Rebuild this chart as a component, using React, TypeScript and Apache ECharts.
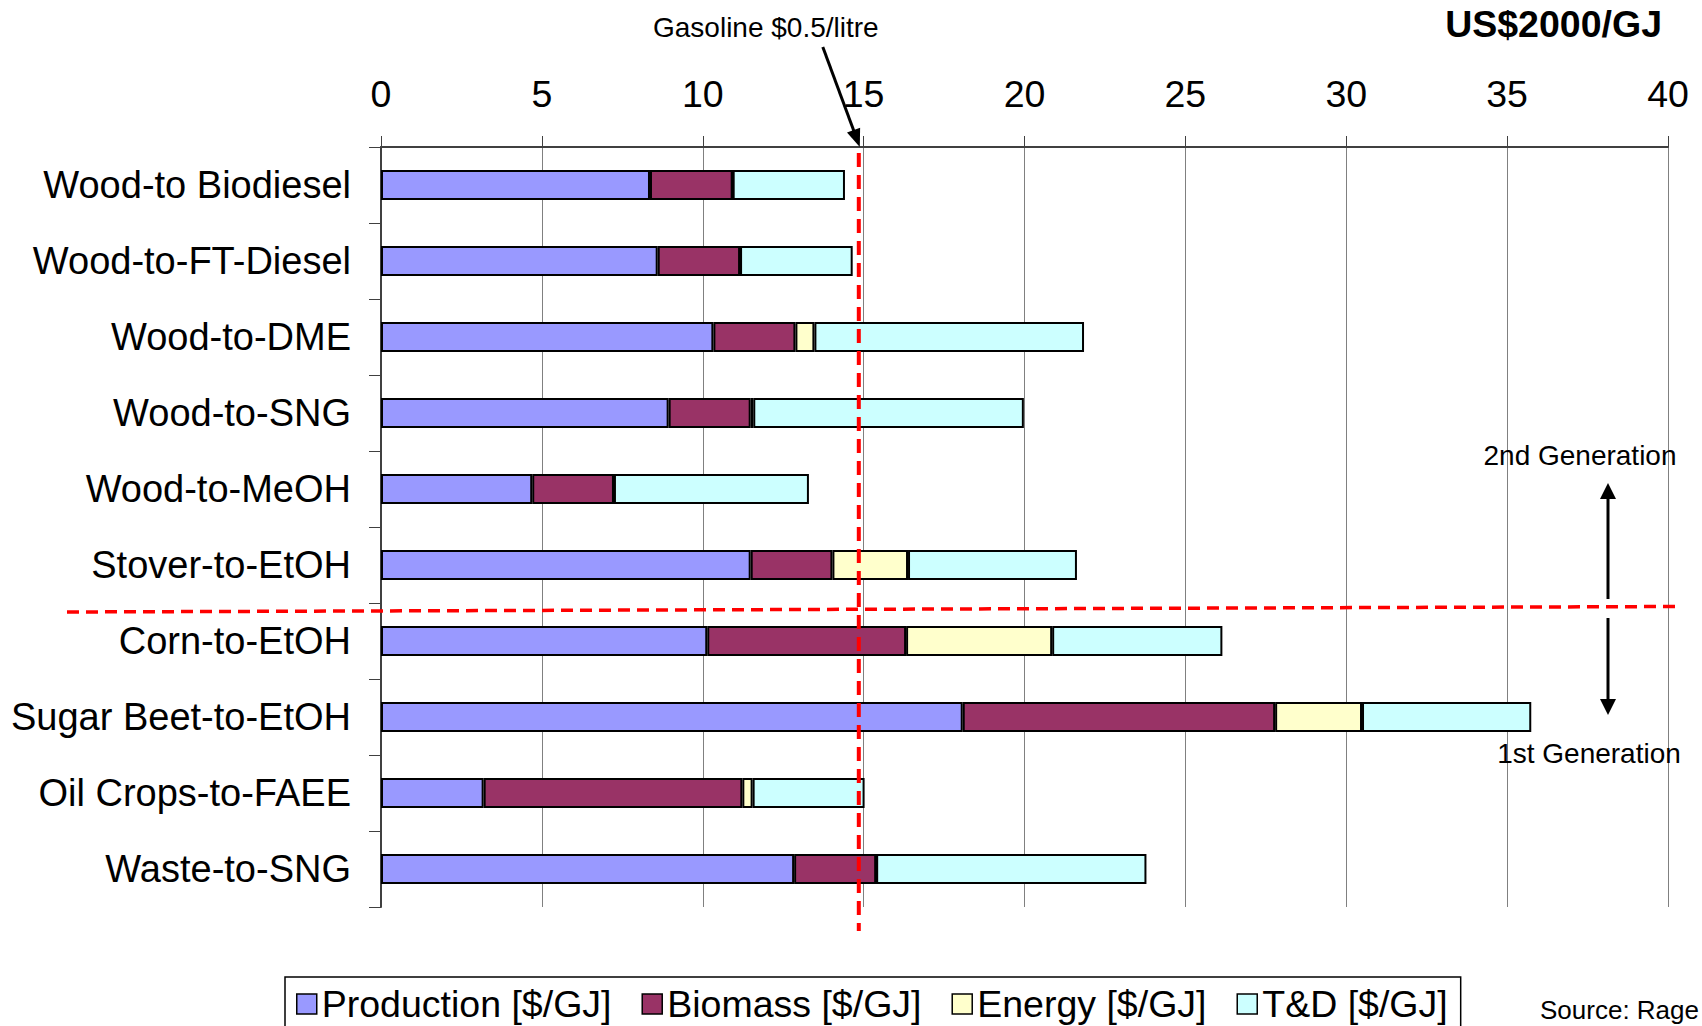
import { useEffect, useRef } from "react";
import * as echarts from "echarts";

// Cost breakdown per fuel pathway, US$2000 per GJ
const categories = [
  "Wood-to Biodiesel",
  "Wood-to-FT-Diesel",
  "Wood-to-DME",
  "Wood-to-SNG",
  "Wood-to-MeOH",
  "Stover-to-EtOH",
  "Corn-to-EtOH",
  "Sugar Beet-to-EtOH",
  "Oil Crops-to-FAEE",
  "Waste-to-SNG",
];
const production = [8.36, 8.6, 10.33, 8.94, 4.7, 11.49, 10.14, 18.08, 3.19, 12.84];
const biomass = [2.57, 2.56, 2.55, 2.55, 2.54, 2.54, 6.18, 9.71, 8.04, 2.55];
const energy = [0, 0, 0.59, 0.08, 0, 2.35, 4.54, 2.7, 0.32, 0];
const transport = [3.49, 3.5, 8.38, 8.41, 6.06, 5.25, 5.29, 5.26, 3.48, 8.4];

const seriesNames = ["Production [$/GJ]", "Biomass [$/GJ]", "Energy [$/GJ]", "T&D [$/GJ]"];
const seriesColors = ["#9999FF", "#993366", "#FFFFCC", "#CCFFFF"];

const axisMin = 0;
const axisMax = 40;
const axisStep = 5;
const gasolinePrice = 14.85;

const FONT = "'Liberation Sans', Arial, Helvetica, sans-serif";

// Triangle for an arrow tip pointing from (fx, fy) towards (tx, ty)
function arrowHead(tx: number, ty: number, fx: number, fy: number, len: number, halfW: number) {
  const dx = tx - fx;
  const dy = ty - fy;
  const d = Math.hypot(dx, dy) || 1;
  const ux = dx / d;
  const uy = dy / d;
  const bx = tx - ux * len;
  const by = ty - uy * len;
  return [
    [tx, ty],
    [bx - uy * halfW, by + ux * halfW],
    [bx + uy * halfW, by - ux * halfW],
  ];
}

export default function App() {
  const ref = useRef<HTMLDivElement>(null);

  useEffect(() => {
    document.body.style.margin = "0";
    if (!ref.current) return;
    const chart = echarts.init(ref.current, undefined, { renderer: "svg" });

    const gridTop = 147;
    const gridBottom = 119;
    const gridLeft = 381;
    const gridRight = 34;

    const values = [production, biomass, energy, transport];

    chart.setOption({
      animation: false,
      backgroundColor: "#ffffff",
      textStyle: { fontFamily: FONT },
      grid: { left: gridLeft, right: gridRight, top: gridTop, bottom: gridBottom, containLabel: false },
      xAxis: {
        type: "value",
        position: "top",
        min: axisMin,
        max: axisMax,
        interval: axisStep,
        axisLine: { show: true, lineStyle: { color: "#404040", width: 2 } },
        axisTick: { show: true, inside: false, length: 11, lineStyle: { color: "#404040", width: 1 } },
        axisLabel: { color: "#000", fontSize: 37.5, fontFamily: FONT, margin: 34 },
        splitLine: { show: true, lineStyle: { color: "#808080", width: 1 } },
      },
      yAxis: {
        type: "category",
        data: categories,
        inverse: true,
        axisLine: { show: true, lineStyle: { color: "#404040", width: 2 } },
        axisTick: { show: true, inside: false, length: 12, alignWithLabel: false, lineStyle: { color: "#404040", width: 1 } },
        axisLabel: { color: "#000", fontSize: 38, fontFamily: FONT, margin: 30 },
        splitLine: { show: false },
      },
      legend: {
        show: true,
        data: seriesNames,
        left: 285,
        top: 977,
        orient: "horizontal",
        icon: "rect",
        itemWidth: 20,
        itemHeight: 20,
        itemGap: 30,
        padding: [8, 13, 40, 11],
        borderColor: "#000",
        borderWidth: 1.5,
        selectedMode: false,
        textStyle: { color: "#000", fontSize: 37.5, fontFamily: FONT, padding: [0, 0, 0, 0] },
        itemStyle: { borderColor: "#000", borderWidth: 1.5 },
      },
      series: seriesNames.map((name, i) => ({
        name,
        type: "bar",
        stack: "total",
        barWidth: 30,
        data: values[i],
        itemStyle: { color: seriesColors[i], borderColor: "#000", borderWidth: 2 },
        emphasis: { disabled: true },
      })),
    });

    // Annotation overlay: gasoline reference line, generation divider and labels
    const gx = chart.convertToPixel({ xAxisIndex: 0 }, gasolinePrice) as number;
    const c5 = chart.convertToPixel({ yAxisIndex: 0 }, categories[5]) as number;
    const c6 = chart.convertToPixel({ yAxisIndex: 0 }, categories[6]) as number;
    const divider = (c5 + c6) / 2;

    const tipX = gx + 1;
    const tipY = gridTop;
    const fromX = tipX - 37;
    const fromY = 47;

    const genX = 1608;
    const upTip = 483;
    const downTip = 715;

    chart.setOption({
      graphic: [
        {
          type: "line",
          z: 100,
          shape: { x1: gx, y1: gridTop + 6, x2: gx, y2: 931 },
          style: { stroke: "#FF0000", lineWidth: 4, lineDash: [14, 8] },
        },
        {
          type: "line",
          z: 100,
          shape: { x1: 67, y1: divider + 9, x2: 1680, y2: divider + 3.5 },
          style: { stroke: "#FF0000", lineWidth: 3.5, lineDash: [12, 7] },
        },
        {
          type: "line",
          z: 101,
          shape: { x1: fromX, y1: fromY, x2: tipX - (tipX - fromX) * 0.15, y2: tipY - (tipY - fromY) * 0.15 },
          style: { stroke: "#000", lineWidth: 3 },
        },
        {
          type: "polygon",
          z: 101,
          shape: { points: arrowHead(tipX, tipY, fromX, fromY, 18, 7) },
          style: { fill: "#000" },
        },
        {
          type: "text",
          z: 101,
          x: 653,
          y: 27,
          style: { text: "Gasoline $0.5/litre", fontSize: 28, fontFamily: FONT, fill: "#000", align: "left", verticalAlign: "middle" },
        },
        {
          type: "text",
          z: 101,
          x: 1662,
          y: 24,
          style: { text: "US$2000/GJ", fontSize: 37.5, fontWeight: "bold", fontFamily: FONT, fill: "#000", align: "right", verticalAlign: "middle" },
        },
        {
          type: "line",
          z: 101,
          shape: { x1: genX, y1: 599, x2: genX, y2: upTip + 14 },
          style: { stroke: "#000", lineWidth: 3 },
        },
        {
          type: "polygon",
          z: 101,
          shape: { points: arrowHead(genX, upTip, genX, 599, 16, 8) },
          style: { fill: "#000" },
        },
        {
          type: "line",
          z: 101,
          shape: { x1: genX, y1: 618, x2: genX, y2: downTip - 14 },
          style: { stroke: "#000", lineWidth: 3 },
        },
        {
          type: "polygon",
          z: 101,
          shape: { points: arrowHead(genX, downTip, genX, 618, 16, 8) },
          style: { fill: "#000" },
        },
        {
          type: "text",
          z: 101,
          x: 1580,
          y: 455,
          style: { text: "2nd Generation", fontSize: 28, fontFamily: FONT, fill: "#000", align: "center", verticalAlign: "middle" },
        },
        {
          type: "text",
          z: 101,
          x: 1589,
          y: 753,
          style: { text: "1st Generation", fontSize: 28, fontFamily: FONT, fill: "#000", align: "center", verticalAlign: "middle" },
        },
        {
          type: "text",
          z: 101,
          x: 1540,
          y: 1010,
          style: { text: "Source: Rage", fontSize: 26, fontFamily: FONT, fill: "#000", align: "left", verticalAlign: "middle" },
        },
      ],
    });

    return () => chart.dispose();
  }, []);

  return <div ref={ref} style={{ width: 1702, height: 1026, overflow: "hidden" }} />;
}
